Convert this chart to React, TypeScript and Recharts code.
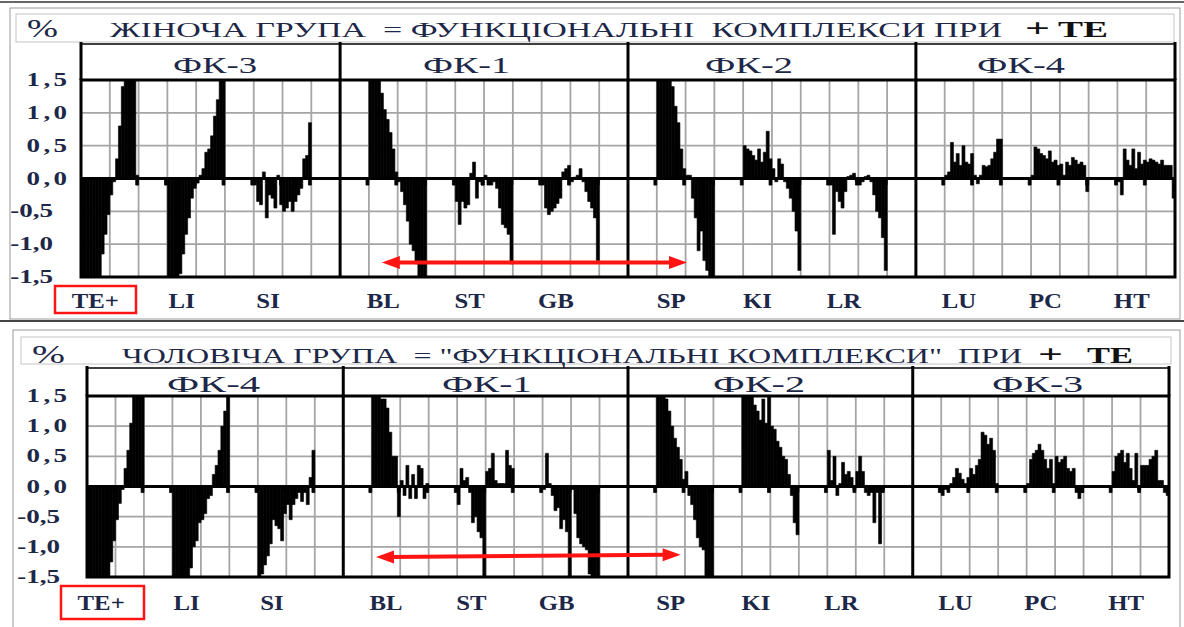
import React from 'react';
import { BarChart, Bar, XAxis, YAxis, CartesianGrid, ReferenceLine, ReferenceArea } from 'recharts';

const INK = '#1d2747';
const SERIF = '"Liberation Serif", "Times New Roman", serif';
const RED = '#ff1414';

// layout of the category axis: 38 grid columns, 10 bars per column, each meridian = 2 columns
const MERIDIANS = ['TE+', 'LI', 'SI', 'BL', 'ST', 'GB', 'SP', 'KI', 'LR', 'LU', 'PC', 'HT'];
const START_COLS = [0, 3, 6, 10, 13, 16, 20, 23, 26, 30, 33, 36];
const DIVIDER_COLS = [9, 19, 29];
const COLS = 38;
const PER_COL = 10;
const Y_TICKS = [-1.5, -1, -0.5, 0, 0.5, 1, 1.5];
const LABEL_TICKS = START_COLS.map((c) => c * PER_COL + 5);
const NUB_COLS = Array.from({ length: COLS - 1 }, (_, k) => k + 1).filter((c) => !DIVIDER_COLS.includes(c));

const GROUPS_F = ['ФК-3', 'ФК-1', 'ФК-2', 'ФК-4'];
const GROUPS_M = ['ФК-4', 'ФК-1', 'ФК-2', 'ФК-3'];

// female group (top)
const F_TE = [-1.5, -1.5, -1.5, -1.5, -1.5, -1.5, -1.5, -1.15, -0.85, -0.55, -0.25, -0.05, 0.3, 0.8, 1.4, 1.5, 1.5, 1.5, 1.5, 0.05];
const F_LI = [-1.5, -1.5, -1.5, -1.5, -1.45, -1.15, -0.85, -0.6, -0.3, -0.15, -0.07, 0.05, 0.15, 0.4, 0.45, 0.65, 0.95, 1.2, 1.5, 1.5];
const F_SI = [-0.1, -0.35, -0.4, 0.1, -0.6, -0.25, -0.3, -0.45, 0.05, -0.4, -0.5, -0.45, -0.35, -0.5, -0.35, -0.25, -0.15, 0.3, 0.35, 0.85];
const F_BL = [1.5, 1.5, 1.5, 1.5, 1.3, 1.05, 0.9, 0.7, 0.45, 0.1, -0.05, -0.2, -0.4, -0.65, -1.0, -1.1, -1.3, -1.5, -1.5, -1.5];
const F_ST = [-0.35, -0.7, -0.35, -0.45, -0.4, 0.08, 0.25, -0.3, -0.05, -0.1, 0.05, -0.1, -0.1, -0.05, -0.15, -0.45, -0.7, -0.75, -0.85, -1.3];
const F_GB = [-0.1, -0.45, -0.55, -0.5, -0.45, -0.38, -0.3, 0.1, 0.15, 0.2, -0.05, 0.02, 0.05, 0.15, -0.05, -0.2, -0.35, -0.45, -0.6, -1.25];
const F_SP = [1.5, 1.5, 1.5, 1.5, 1.5, 1.4, 1.1, 0.85, 0.45, 0.15, 0.05, 0.05, -0.3, -0.6, -1.1, -0.8, -1.25, -1.4, -1.5, -1.5];
const F_KI = [0.5, 0.45, 0.42, 0.35, 0.28, 0.45, 0.25, 0.4, 0.72, 0.3, 0.15, -0.05, 0.3, 0.22, -0.05, -0.15, -0.3, -0.5, -0.8, -1.4];
const F_LR = [-0.1, -0.85, -0.2, -0.35, -0.45, -0.2, 0.03, 0.05, 0.08, -0.05, -0.1, -0.05, 0.03, 0.05, -0.05, -0.25, -0.5, -0.6, -0.9, -1.4];
const F_LU = [0.05, 0.1, 0.55, 0.25, 0.38, 0.2, 0.5, 0.25, 0.22, 0.38, 0.05, -0.08, 0.05, 0.2, 0.18, 0.2, 0.3, 0.4, 0.6, 0.6];
const F_PC = [0.05, 0.48, 0.45, 0.38, 0.35, 0.3, 0.42, 0.25, 0.28, 0.2, 0.22, 0.05, 0.25, 0.2, 0.32, 0.28, 0.22, 0.25, 0.2, -0.2];
const F_HT = [-0.05, -0.25, 0.45, 0.28, 0.2, 0.45, 0.15, 0.4, 0.22, 0.28, 0.25, 0.3, 0.28, 0.25, 0.22, 0.28, 0.2, 0.2, 0.2, -0.3];

// male group (bottom)
const M_TE = [-1.5, -1.5, -1.5, -1.5, -1.5, -1.5, -1.5, -1.5, -1.25, -0.9, -0.55, -0.28, -0.05, 0.3, 0.6, 1.05, 1.5, 1.5, 1.5, 1.5];
const M_LI = [-1.5, -1.5, -1.5, -1.5, -1.5, -1.5, -1.35, -1.0, -0.9, -0.6, -0.55, -0.45, -0.2, -0.15, 0.2, 0.35, 0.6, 1.0, 1.25, 1.5];
const M_SI = [-1.5, -1.45, -1.3, -1.15, -0.95, -0.55, -0.65, -0.7, -0.9, -0.45, -0.3, -0.55, -0.3, -0.2, -0.1, -0.25, -0.1, -0.3, 0.15, 0.6];
const M_BL = [1.5, 1.5, 1.5, 1.45, 1.45, 1.3, 0.9, 0.5, 0.5, -0.5, 0.1, -0.15, 0.35, -0.2, 0.2, -0.2, 0.35, 0.3, -0.2, 0.05];
const M_ST = [-0.3, 0.3, 0.1, 0.15, -0.1, -0.6, -0.5, -0.75, -0.85, -1.5, 0.25, 0.3, 0.55, 0.1, 0.05, 0.05, 0.05, 0.6, 0.35, 0.3];
const M_GB = [-0.05, 0.55, 0.05, -0.15, -0.4, -0.35, -0.7, -0.55, -0.75, -1.5, -0.05, -0.45, -0.85, -0.95, -1.0, -1.05, -1.45, -1.5, -1.5, -1.5];
const M_SP = [1.5, 1.5, 1.5, 1.45, 1.25, 1.0, 0.8, 0.65, 0.45, 0.12, 0.25, -0.15, -0.3, -0.55, -0.85, -1.0, -1.05, -1.5, -1.5, -1.5];
const M_KI = [1.5, 1.5, 1.5, 1.5, 1.35, 1.25, 1.1, 1.45, 1.05, 1.5, 1.0, 0.95, 0.75, 0.65, 0.5, 0.45, 0.2, -0.15, -0.6, -0.8];
const M_LR = [0.6, 0.1, 0.5, -0.15, 0.05, 0.4, 0.2, 0.25, 0.15, -0.05, 0.25, 0.5, 0.25, -0.1, -0.15, -0.1, -0.6, -0.1, -0.95, -0.05];
const M_LU = [-0.15, -0.05, -0.1, 0.05, 0.15, 0.3, 0.22, 0.12, 0.05, 0.15, 0.3, 0.2, 0.35, 0.45, 0.9, 0.85, 0.7, 0.8, 0.6, 0.05];
const M_PC = [0.05, 0.45, 0.55, 0.6, 0.7, 0.6, 0.45, 0.3, 0.45, 0.05, 0.5, 0.4, 0.45, 0.5, 0.3, 0.25, 0.3, -0.1, -0.2, -0.1];
const M_HT = [0.25, 0.5, 0.55, 0.6, 0.4, 0.55, 0.3, 0.1, 0.55, -0.05, 0.35, 0.35, 0.35, 0.45, 0.5, 0.6, 0.1, 0.1, -0.1, -0.15];

const FEMALE = [F_TE, F_LI, F_SI, F_BL, F_ST, F_GB, F_SP, F_KI, F_LR, F_LU, F_PC, F_HT];
const MALE = [M_TE, M_LI, M_SI, M_BL, M_ST, M_GB, M_SP, M_KI, M_LR, M_LU, M_PC, M_HT];

function buildRows(series: number[][]) {
  const rows = Array.from({ length: COLS * PER_COL }, (_, i) => ({ i, v: null as number | null }));
  series.forEach((vals, m) => {
    vals.forEach((v, k) => {
      rows[START_COLS[m] * PER_COL + k].v = v;
    });
  });
  return rows;
}

const TOP = {
  plotLeft: 81, plotRight: 1175, plotTop: 80, plotBottom: 277, headTop: 44,
  posRight: 67, negRight: 53, labelDy: 31,
  arrow: [{ x: 104, y: -1.28 }, { x: 210, y: -1.28 }],
};
const BOTTOM = {
  plotLeft: 87, plotRight: 1169, plotTop: 396, plotBottom: 577, headTop: 368,
  posRight: 67, negRight: 60, labelDy: 33,
  arrow: [{ x: 101, y: -1.17 }, { x: 208, y: -1.13 }],
};

const YTick = (props: any) => {
  const { x, y, payload, posRight, negRight } = props;
  const v = payload.value as number;
  const s = v.toFixed(1).replace('.', ',');
  const rx = x - (props.plotLeft - (v < 0 ? negRight : posRight));
  return (
    <text
      transform={`translate(${rx},${y + 6}) scale(1.5,1)`}
      textAnchor="end"
      fontFamily={SERIF}
      fontWeight="bold"
      fontSize={18}
      fill={INK}
      textLength={v < 0 ? 28.5 : 27}
      lengthAdjust="spacing"
    >
      {s}
    </text>
  );
};

const XTick = (props: any) => {
  const { x, y, payload, dyBase } = props;
  const idx = LABEL_TICKS.indexOf(payload.value);
  if (idx < 0) return null;
  return (
    <text
      transform={`translate(${x - 1.5},${y + dyBase}) scale(1.18,1)`}
      textAnchor="middle"
      fontFamily={SERIF}
      fontWeight="bold"
      fontSize={21}
      fill={INK}
    >
      {MERIDIANS[idx]}
    </text>
  );
};

const RedArrow = (p: any) => {
  const { x1, y1, x2, y2 } = p;
  const dx = x2 - x1;
  const dy = y2 - y1;
  const len = Math.hypot(dx, dy) || 1;
  const ux = dx / len;
  const uy = dy / len;
  const L = 18;
  const H = 6.5;
  const head = (tx: number, ty: number, sx: number, sy: number) => {
    const bx = tx - sx * L;
    const by = ty - sy * L;
    return `${tx},${ty} ${bx - sy * H},${by + sx * H} ${bx + sy * H},${by - sx * H}`;
  };
  return (
    <g>
      <line x1={x1 + ux * (L - 3)} y1={y1 + uy * (L - 3)} x2={x2 - ux * (L - 3)} y2={y2 - uy * (L - 3)} stroke={RED} strokeWidth={4} />
      <polygon points={head(x1, y1, -ux, -uy)} fill={RED} />
      <polygon points={head(x2, y2, ux, uy)} fill={RED} />
    </g>
  );
};

function Panel({ cfg, series }: { cfg: typeof TOP; series: number[][] }) {
  const rows = buildRows(series);
  const plotH = cfg.plotBottom - cfg.plotTop;
  const colW = (cfg.plotRight - cfg.plotLeft) / COLS;
  const vpts = Array.from({ length: COLS - 1 }, (_, k) => cfg.plotLeft + (k + 1) * colW);
  return (
    <div style={{ position: 'absolute', left: 0, top: cfg.plotTop - 10 }}>
      <BarChart
        width={1184}
        height={plotH + 50}
        data={rows}
        margin={{ top: 10, right: 1184 - cfg.plotRight, bottom: 10, left: 0 }}
        barCategoryGap={0}
        barGap={0}
        accessibilityLayer={false}
      >
        <CartesianGrid stroke="#a5a5a5" strokeWidth={1.8} verticalPoints={vpts} />
        <XAxis
          dataKey="i"
          ticks={LABEL_TICKS}
          interval={0}
          axisLine={false}
          tickLine={false}
          tickSize={0}
          tickMargin={0}
          height={30}
          tick={<XTick dyBase={cfg.labelDy} />}
        />
        <YAxis
          domain={[-1.5, 1.5]}
          ticks={Y_TICKS}
          interval={0}
          allowDataOverflow
          axisLine={false}
          tickLine={false}
          tickSize={0}
          tickMargin={0}
          width={cfg.plotLeft}
          tick={<YTick posRight={cfg.posRight} negRight={cfg.negRight} plotLeft={cfg.plotLeft} />}
        />
        <Bar dataKey="v" fill="#000" stroke="#000" strokeWidth={0.6} isAnimationActive={false} />
        <ReferenceLine y={0} stroke="#000" strokeWidth={3} />
        {NUB_COLS.map((c) => (
          <ReferenceArea
            key={'n' + c}
            x1={c * PER_COL - 1}
            x2={c * PER_COL - 1}
            y1={-0.1}
            y2={0}
            fill="#000"
            fillOpacity={1}
            stroke="#000"
            strokeWidth={0.8}
            ifOverflow="visible"
          />
        ))}
        {DIVIDER_COLS.map((c) => (
          <ReferenceLine key={'d' + c} x={c * PER_COL} position="start" stroke="#000" strokeWidth={3} />
        ))}
        <ReferenceArea y1={-1.5} y2={1.5} fill="none" stroke="#000" strokeWidth={3} />
        <ReferenceLine segment={cfg.arrow} shape={RedArrow} />
      </BarChart>
    </div>
  );
}

function Header({ cfg, groups, labelX, labelW, base }: any) {
  const colW = (cfg.plotRight - cfg.plotLeft) / COLS;
  const xs = [0, ...DIVIDER_COLS, COLS].map((c) => cfg.plotLeft + c * colW);
  return (
    <g>
      <rect x={cfg.plotLeft} y={cfg.headTop} width={cfg.plotRight - cfg.plotLeft} height={cfg.plotTop - cfg.headTop} fill="#fff" stroke="#000" strokeWidth={1.5} />
      {xs.map((x, k) => (
        <line key={k} x1={x} x2={x} y1={cfg.headTop - 2} y2={cfg.plotTop} stroke="#000" strokeWidth={3} />
      ))}
      {groups.map((g: string, k: number) => (
        <text key={g} x={labelX[k]} y={base} fontFamily={SERIF} fontSize={23} fill={INK} textLength={labelW[k]} lengthAdjust="spacingAndGlyphs">
          {g}
        </text>
      ))}
    </g>
  );
}

export default function App() {
  return (
    <div style={{ position: 'absolute', left: 0, top: 0, width: 1184, height: 627, background: '#fff', overflow: 'hidden' }}>
      <svg width={1184} height={627} style={{ position: 'absolute', left: 0, top: 0 }}>
        {/* top panel frame & title */}
        <line x1={0} x2={1184} y1={2} y2={2} stroke="#666" strokeWidth={2} />
        <rect x={10} y={8} width={1170} height={311} fill="none" stroke="#9a9a9a" />
        <rect x={16} y={14} width={1158} height={28} fill="none" stroke="#c4c4c4" />
        <text x={27} y={37} fontFamily={SERIF} fontSize={26} fill={INK} textLength={31} lengthAdjust="spacingAndGlyphs">%</text>
        <text x={110} y={37} fontFamily={SERIF} fontSize={22} fill={INK} textLength={892} lengthAdjust="spacingAndGlyphs" style={{ whiteSpace: 'pre' }}>
          {'ЖІНОЧА ГРУПА  = ФУНКЦІОНАЛЬНІ  КОМПЛЕКСИ ПРИ'}
        </text>
        <text x={1025} y={37} fontFamily={SERIF} fontWeight="bold" fontSize={26} fill="#111" textLength={25} lengthAdjust="spacingAndGlyphs">+</text>
        <text x={1058} y={37} fontFamily={SERIF} fontWeight="bold" fontSize={24} fill="#111" textLength={50} lengthAdjust="spacingAndGlyphs">TE</text>
        <Header cfg={TOP} groups={GROUPS_F} labelX={[173, 423, 705, 977]} labelW={[84, 87, 88, 88]} base={73} />
        <rect x={55} y={286} width={81} height={27} fill="none" stroke={RED} strokeWidth={2.5} />

        {/* bottom panel frame & title */}
        <line x1={0} x2={1184} y1={321} y2={321} stroke="#444" strokeWidth={2} />
        <rect x={13} y={330} width={1167} height={300} fill="none" stroke="#9a9a9a" />
        <rect x={21} y={337} width={1150} height={27} fill="none" stroke="#c4c4c4" />
        <text x={32} y={363} fontFamily={SERIF} fontSize={26} fill={INK} textLength={33} lengthAdjust="spacingAndGlyphs">%</text>
        <text x={122} y={363} fontFamily={SERIF} fontSize={22} fill={INK} textLength={900} lengthAdjust="spacingAndGlyphs" style={{ whiteSpace: 'pre' }}>
          {'ЧОЛОВІЧА ГРУПА  = "ФУНКЦІОНАЛЬНІ КОМПЛЕКСИ"  ПРИ'}
        </text>
        <text x={1038} y={363} fontFamily={SERIF} fontWeight="bold" fontSize={26} fill="#111" textLength={25} lengthAdjust="spacingAndGlyphs">+</text>
        <text x={1087} y={363} fontFamily={SERIF} fontWeight="bold" fontSize={24} fill="#111" textLength={46} lengthAdjust="spacingAndGlyphs">TE</text>
        <Header cfg={BOTTOM} groups={GROUPS_M} labelX={[167, 442, 713, 992]} labelW={[93, 90, 92, 91]} base={392} />
        <rect x={61} y={586} width={83} height={33} fill="none" stroke={RED} strokeWidth={2.5} />
      </svg>
      <Panel cfg={TOP} series={FEMALE} />
      <Panel cfg={BOTTOM} series={MALE} />
    </div>
  );
}
